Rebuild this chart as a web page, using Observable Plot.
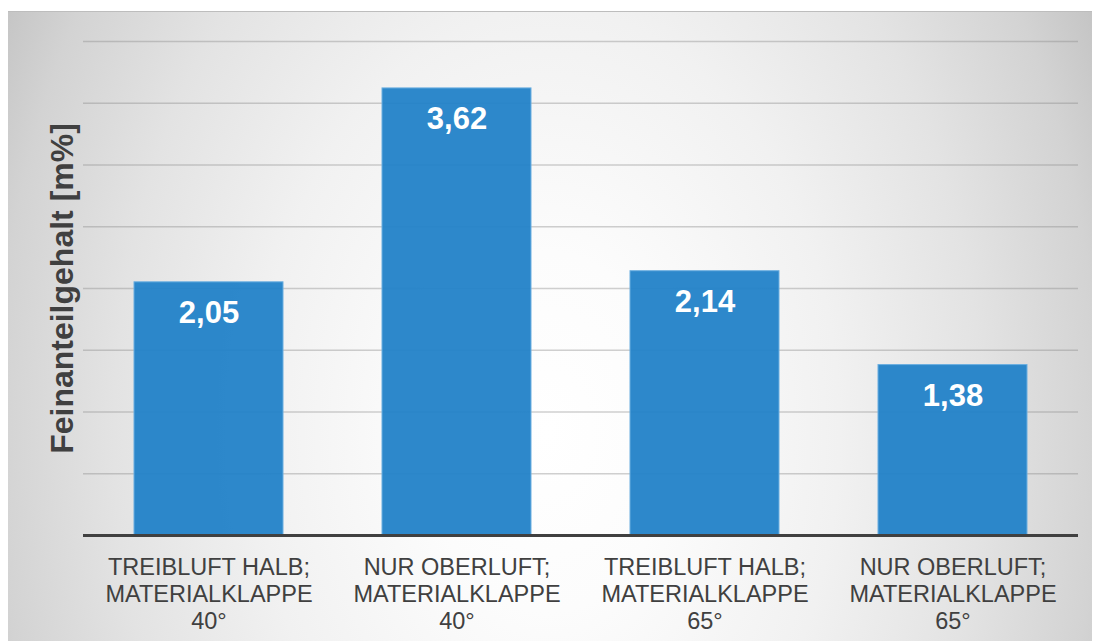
<!DOCTYPE html>
<html>
<head>
<meta charset="utf-8">
<script src="https://cdn.jsdelivr.net/npm/d3@7"></script>
<script src="https://cdn.jsdelivr.net/npm/@observablehq/plot@0.6"></script>
<style>
  html, body { margin: 0; padding: 0; background: #fff; }
  #wrap { position: relative; width: 1096px; height: 641px; overflow: hidden; }
  #bg {
    position: absolute; left: 8px; top: 11px; width: 1084px; height: 640px;
    border-top: 1.5px solid #bdbdbd;
    background: radial-gradient(620px 900px at 540px 420px, #ffffff 0%, #fcfcfc 20%, #f1f1f1 47%, #e3e3e3 70%, #d3d3d3 89%, #c4c4c4 100%);
  }
  #chart { position: absolute; left: 0; top: 0; }
  #chart svg { background: transparent; }
</style>
</head>
<body>
<div id="wrap"><div id="bg"></div><div id="chart"></div></div>
<script>
const categories = [
  "TREIBLUFT HALB;\nMATERIALKLAPPE\n40°",
  "NUR OBERLUFT;\nMATERIALKLAPPE\n40°",
  "TREIBLUFT HALB;\nMATERIALKLAPPE\n65°",
  "NUR OBERLUFT;\nMATERIALKLAPPE\n65°"
];
const values = [2.05, 3.62, 2.14, 1.38];
const gridTicks = [0.5, 1, 1.5, 2, 2.5, 3, 3.5, 4];
const yLabel = "Feinanteilgehalt [m%]";

const data = categories.map((c, i) => ({cat: c, value: values[i]}));
const fmt = v => v.toFixed(2).replace(".", ",");

const chart = Plot.plot({
  width: 1096,
  height: 641,
  marginLeft: 83,
  marginRight: 18,
  marginTop: 41,
  marginBottom: 106,
  style: {background: "transparent", fontFamily: "Liberation Sans, Arial, sans-serif"},
  x: {domain: categories, paddingInner: 0.4, paddingOuter: 0.2, label: null},
  y: {domain: [0, 4], label: null},
  marks: [
    Plot.gridY(gridTicks, {stroke: "#8a8a8a", strokeOpacity: 0.4, strokeWidth: 1.5}),
    Plot.barY(data, {x: "cat", y: "value", fill: "#2282c8", fillOpacity: 0.95, stroke: "#6aaee0", strokeWidth: 1}),
    Plot.ruleY([0], {stroke: "#404040", strokeWidth: 3}),
    Plot.text(data, {x: "cat", y: "value", text: d => fmt(d.value), dy: 31, fill: "white", fontWeight: "bold", fontSize: 31, textAnchor: "middle"}),
    Plot.axisX({tickSize: 0, tickPadding: 20, fontSize: 23.5, lineHeight: 1.15, fill: "#404040", label: null}),
    Plot.axisY({ticks: [], label: null}),
    Plot.text([yLabel], {frameAnchor: "left", rotate: -90, dx: -21, fontSize: 32, fontWeight: "bold", fill: "#404040", textAnchor: "middle"})
  ]
});
document.getElementById("chart").appendChild(chart);
</script>
</body>
</html>
